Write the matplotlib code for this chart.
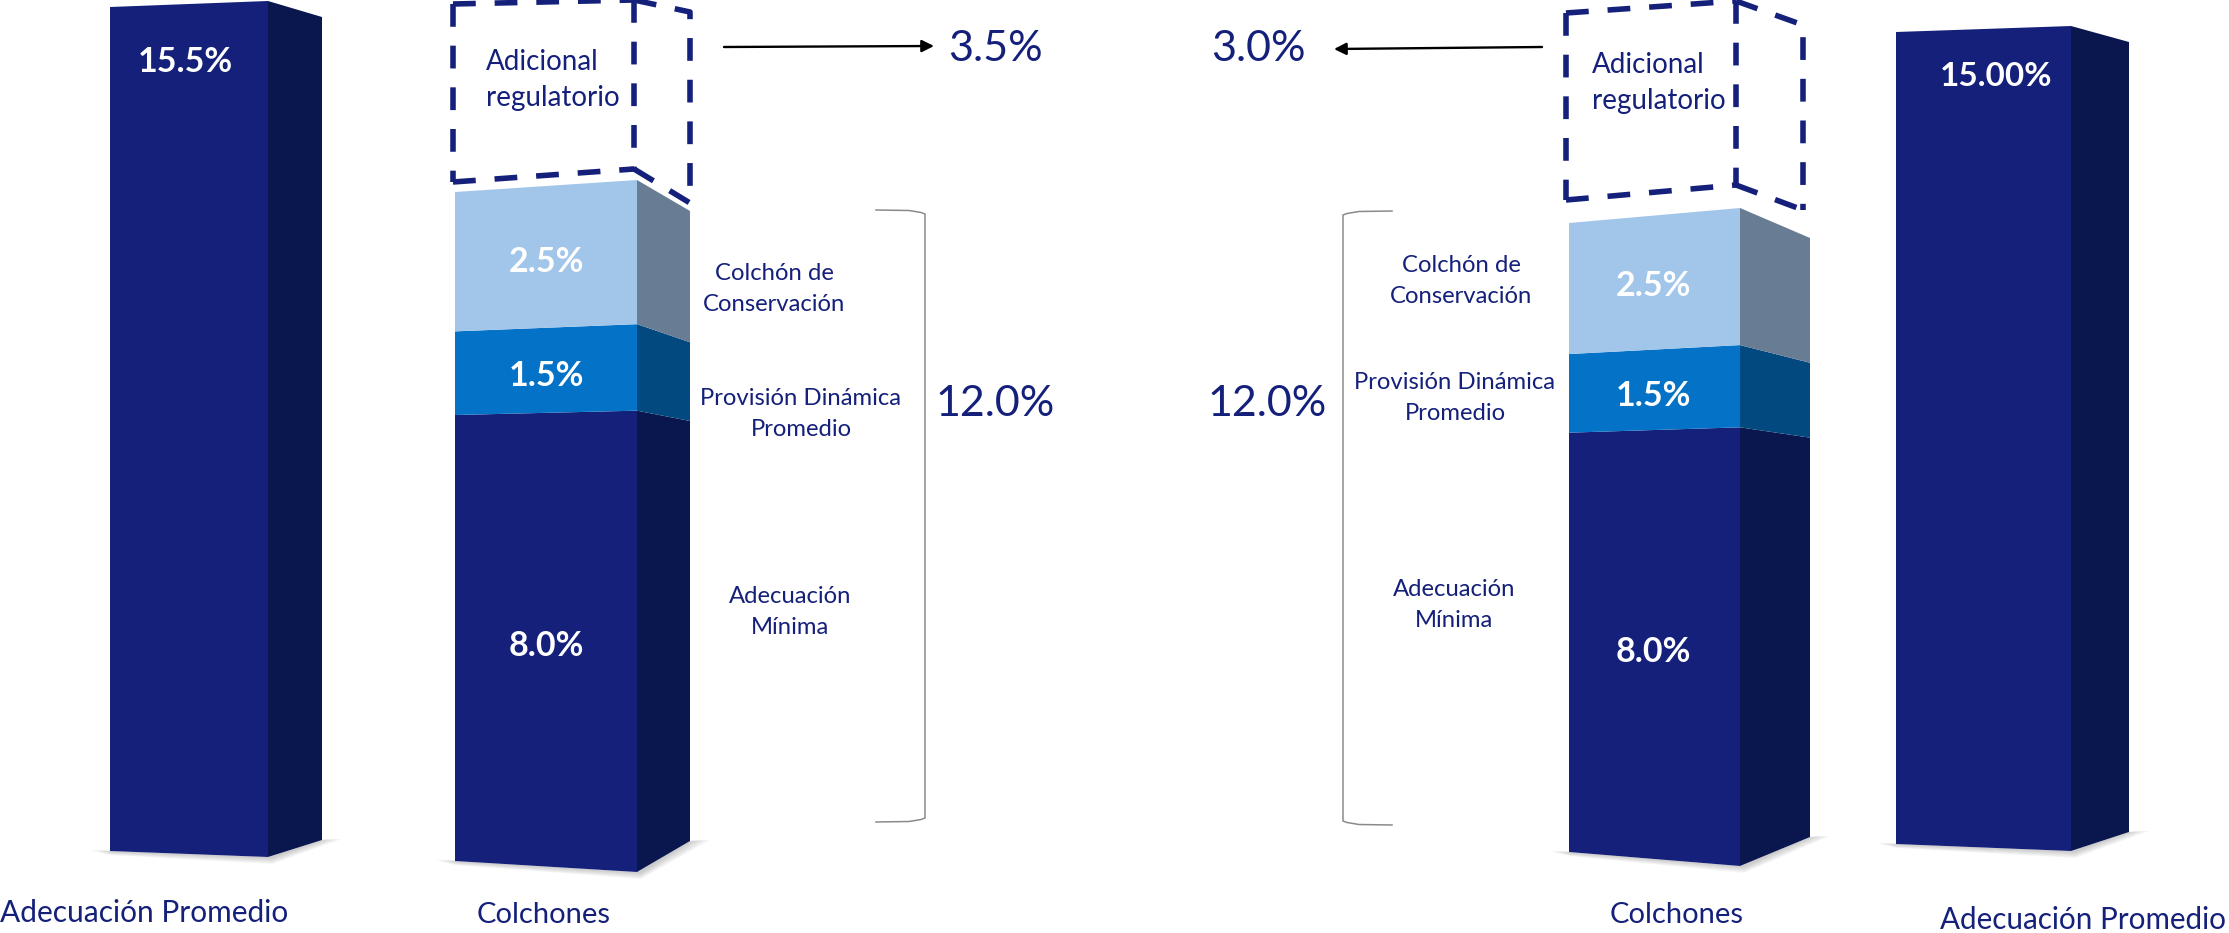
import matplotlib
matplotlib.use("Agg")
import matplotlib.pyplot as plt
from matplotlib.patches import Polygon

plt.rcParams["font.family"] = ["Lato", "DejaVu Sans"]

# ---- data ----
SEGMENT_NAMES = ["Adecuación\nMínima", "Provisión Dinámica\nPromedio", "Colchón de\nConservación"]
AVERAGE_NAME = "Adecuación Promedio"
BUFFERS_NAME = "Colchones"
EXTRA_NAME = "Adicional\nregulatorio"

AVERAGE_LEFT = 15.5
AVERAGE_RIGHT = 15.0
BUFFERS_LEFT = [8.0, 1.5, 2.5]
BUFFERS_RIGHT = [8.0, 1.5, 2.5]
EXTRA_LEFT = 3.5
EXTRA_RIGHT = 3.0

# ---- layout, in pixels of the 2229x933 picture ----
W, H = 2229, 933
NAVY = "#14207A"
TEXT = "#14207A"
FRONT = ["#14207A", "#0472C6", "#A2C6EA"]
SIDE = ["#0A164E", "#01497E", "#687C94"]

# x of the 3 vertical edges, then y of each edge at value 0 and at the column's full value
COL_1 = {"x": (110, 268, 322), "fl": (851, 7), "fr": (857, 1), "sr": (840, 17)}
COL_2 = {"x": (455, 637, 690), "fl": (861, 192), "fr": (872, 180), "sr": (841, 211)}
COL_3 = {"x": (1569, 1740, 1810), "fl": (852, 223), "fr": (866, 208), "sr": (837, 238)}
COL_4 = {"x": (1896, 2071, 2129), "fl": (844, 32), "fr": (851, 26), "sr": (832, 42)}


def edge_value(col, edge, v, vtop):
    # the 3D columns have perspective: each edge has its own slope
    y0, y1 = col[edge]
    y_px = y0 + (y1 - y0) * v / vtop
    f0, f1 = col["fl"]
    return (f0 - y_px) / (f0 - f1) * vtop


def draw_column(fig, col, values, front, side):
    vtop = sum(values)
    f0, f1 = col["fl"]
    ax = fig.add_axes([0, 1 - f0 / H, 1, (f0 - f1) / H])
    ax.set_xlim(0, W)
    ax.set_ylim(0, vtop)
    ax.axis("off")
    ax.patch.set_alpha(0)
    xl, xm, xr = col["x"]

    # soft floor shadow
    y_fl = edge_value(col, "fl", 0, vtop)
    y_fr = edge_value(col, "fr", 0, vtop)
    y_sr = edge_value(col, "sr", 0, vtop)
    unit = vtop / (f0 - f1)
    for k in range(1, 7):
        t = k / 6
        pts = [(xl - 20 * t, y_fl + 1 * unit), (xl, y_fl), (xm, y_fr), (xr, y_sr),
               (xr + 20 * t, y_sr + 1 * unit), (xm + 4, y_fr - 7 * t * unit), (xl, y_fl - 4 * t * unit)]
        ax.add_patch(Polygon(pts, color="#555555", alpha=0.055, lw=0, clip_on=False, zorder=1))

    bottom = 0
    for v, fc, sc in zip(values, front, side):
        top = bottom + v
        front_pts = [(xl, bottom), (xm, edge_value(col, "fr", bottom, vtop)),
                     (xm, edge_value(col, "fr", top, vtop)), (xl, top)]
        side_pts = [(xm, edge_value(col, "fr", bottom, vtop)), (xr, edge_value(col, "sr", bottom, vtop)),
                    (xr, edge_value(col, "sr", top, vtop)), (xm, edge_value(col, "fr", top, vtop))]
        ax.add_patch(Polygon(front_pts, color=fc, lw=0, clip_on=False, zorder=2))
        ax.add_patch(Polygon(side_pts, color=sc, lw=0, clip_on=False, zorder=2))
        bottom = top


def dashed_box(ax, xs, top, low):
    # xs: edges, top / low: y of the edges on the upper and lower faces
    xl, xm, xr = xs
    style = dict(color=NAVY, lw=4, ls=(0, (4.1, 3.4)), solid_capstyle="butt", zorder=5)
    ax.plot([xl, xm], [top[0], top[1]], **style)
    ax.plot([xl, xl], [top[0], low[0]], **style)
    ax.plot([xl, xm], [low[0], low[1]], **style)
    ax.plot([xm, xm], [top[1], low[1]], **style)
    ax.plot([xm, xr, xr], [top[1], top[2], low[2]], **style)
    ax.plot([xm, xr], [low[1], low[2]], **style)


def bracket(ax, x_open, x_spine, y_top, y_low):
    # thin grey bracket, the arms bend a little just before the sharp corner
    d = 1 if x_spine > x_open else -1
    xs = [x_open, x_spine - 16 * d, x_spine - 4 * d, x_spine, x_spine, x_spine - 4 * d, x_spine - 16 * d, x_open]
    ys = [y_top, y_top + 0.5, y_top + 2.5, y_top + 4, y_low - 4, y_low - 2.5, y_low - 0.5, y_low]
    ax.plot(xs, ys, color="#8A8A8A", lw=1.1, zorder=5)


def arrow(ax, start, end):
    ax.annotate("", xy=end, xytext=start, zorder=5,
                arrowprops=dict(arrowstyle="-|>", color="black", lw=1.7, mutation_scale=18, shrinkA=0, shrinkB=0))


def main():
    fig = plt.figure(figsize=(W / 100, H / 100), dpi=100, facecolor="white")

    draw_column(fig, COL_1, [AVERAGE_LEFT], [NAVY], [SIDE[0]])
    draw_column(fig, COL_2, BUFFERS_LEFT, FRONT, SIDE)
    draw_column(fig, COL_3, BUFFERS_RIGHT, FRONT, SIDE)
    draw_column(fig, COL_4, [AVERAGE_RIGHT], [NAVY], [SIDE[0]])

    # overlay in pixels for annotations and labels
    ov = fig.add_axes([0, 0, 1, 1], zorder=10)
    ov.set_xlim(0, W)
    ov.set_ylim(H, 0)
    ov.axis("off")
    ov.patch.set_alpha(0)

    dashed_box(ov, (453, 634, 690), (4, 0, 12), (182, 169, 203))
    dashed_box(ov, (1566, 1736, 1803), (13, 1, 25), (200, 185, 210))

    bracket(ov, 876, 925, 210, 822)
    bracket(ov, 1392, 1343, 211, 825)
    arrow(ov, (724, 47), (934, 46))
    arrow(ov, (1542, 47), (1334, 49))

    def label(x, y, s, size=20, color=TEXT, weight="normal", ha="center", linespacing=1.2):
        ov.text(x, y, s, fontsize=size, color=color, fontweight=weight, ha=ha, va="center",
                linespacing=linespacing)

    # values on the columns
    label(185, 62, f"{AVERAGE_LEFT:.1f}%", 24.5, "white", "bold")
    label(1996, 77, f"{AVERAGE_RIGHT:.2f}%", 24, "white", "bold")
    for v, y in zip(BUFFERS_LEFT, (646, 376, 262)):
        label(546, y, f"{v:.1f}%", 24.5, "white", "bold")
    for v, y in zip(BUFFERS_RIGHT, (652, 396, 286)):
        label(1653, y, f"{v:.1f}%", 24.5, "white", "bold")

    # segment names
    for name, (x, y) in zip(SEGMENT_NAMES, ((790, 612), (801, 414), (774, 289))):
        label(x, y, name, 17.2, linespacing=1.55)
    for name, (x, y) in zip(SEGMENT_NAMES, ((1454, 605), (1455, 398), (1461, 281))):
        label(x, y, name, 17.2, linespacing=1.55)

    label(486, 80, EXTRA_NAME, 20, ha="left", linespacing=1.48)
    label(1592, 83, EXTRA_NAME, 20, ha="left", linespacing=1.48)

    # totals next to the brackets and arrows
    subtotal_left = sum(BUFFERS_LEFT)
    subtotal_right = sum(BUFFERS_RIGHT)
    label(995, 49, f"{EXTRA_LEFT:.1f}%", 31)
    label(1258, 49, f"{EXTRA_RIGHT:.1f}%", 31)
    label(995, 404, f"{subtotal_left:.1f}%", 31)
    label(1267, 404, f"{subtotal_right:.1f}%", 31)

    # names below the columns
    label(144, 913, AVERAGE_NAME, 21.5)
    label(544, 915, BUFFERS_NAME, 21)
    label(1677, 915, BUFFERS_NAME, 21)
    label(2083, 920, AVERAGE_NAME, 21.3)

    fig.savefig("out.png", dpi=100)


if __name__ == "__main__":
    main()
